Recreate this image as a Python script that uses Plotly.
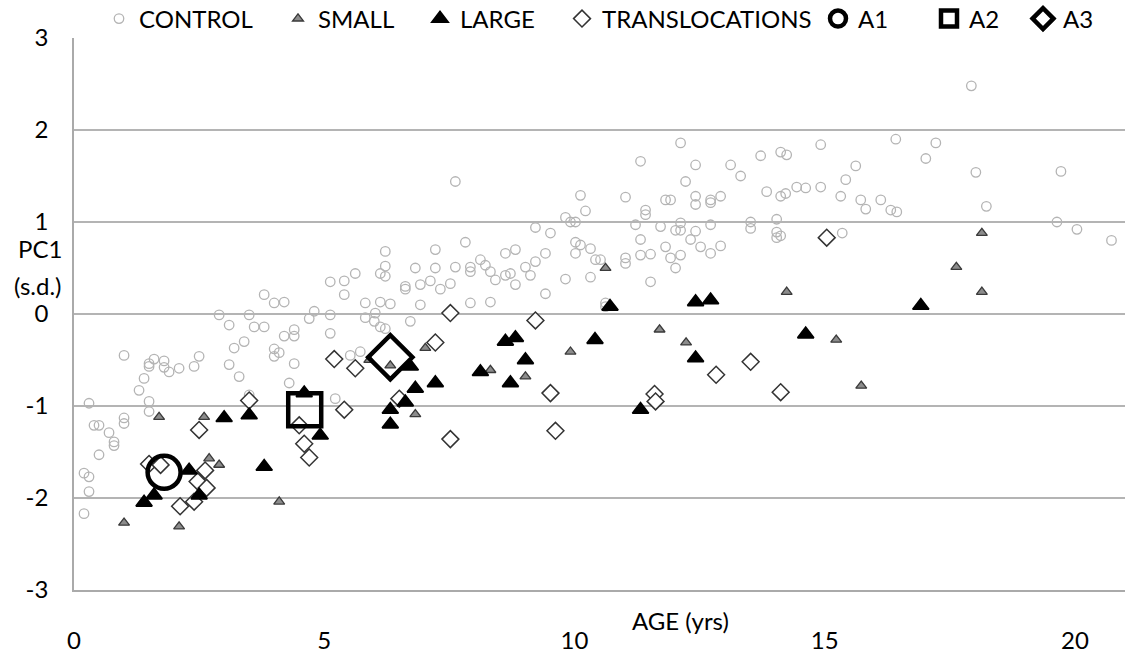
import plotly.graph_objects as go

# ---------------- data ----------------
control_age = [
    0.2, 0.2, 0.3, 0.3, 0.3, 0.4, 0.5, 0.5, 0.7, 0.8, 0.8, 1.0, 1.0, 1.0, 1.3, 1.4, 1.5, 1.5, 1.5, 1.5,
    1.6, 1.8, 1.8, 1.9, 2.1, 2.4, 2.5, 2.9, 3.1, 3.1, 3.2, 3.3, 3.4, 3.5, 3.5, 3.6, 3.8, 3.8, 4.0, 4.2,
    4.0, 4.1, 4.0, 4.2, 4.4, 4.4, 4.4, 4.3, 4.7, 4.8,
    5.12, 5.12, 5.12, 5.22, 5.40, 5.40, 5.62, 5.52, 5.72, 5.82, 5.82, 6.00, 6.02, 6.12, 6.12, 6.12,
    6.22, 6.22, 6.22, 6.22, 6.32, 6.62, 6.62, 6.72, 6.82, 6.92, 6.92, 7.12, 7.22, 7.22, 7.32, 7.52,
    7.62, 7.62, 7.82, 7.92, 7.92, 7.92, 8.12, 8.22, 8.32, 8.32, 8.42, 8.62, 8.62, 8.72, 8.82, 8.82,
    9.02, 9.12, 9.22, 9.22, 9.42, 9.42, 9.52, 9.82, 9.82,
    9.92, 10.02, 10.02, 10.12, 10.02, 10.12, 10.22, 10.32, 10.32, 10.42, 10.52, 10.62, 10.62, 11.02,
    11.02, 11.02, 11.22, 11.32, 11.32, 11.32, 11.42, 11.42, 11.52, 11.52, 11.72, 11.82, 11.82, 11.92,
    11.92, 12.02, 12.02, 12.12, 12.12, 12.12, 12.12, 12.22, 12.32, 12.42, 12.42, 12.42, 12.42, 12.52,
    12.72, 12.72, 12.72, 12.72, 12.92, 12.92, 13.12, 13.32, 13.52, 13.52, 13.72, 13.84, 14.04, 14.04,
    14.04, 14.12, 14.12, 14.12, 14.22, 14.24, 14.44, 14.62, 14.92, 14.92,
    15.32, 15.35, 15.42, 15.62, 15.72, 15.82, 16.12, 16.32, 16.44, 16.42, 17.02, 17.22, 17.93, 18.02,
    18.23, 19.64, 19.72, 20.04, 20.73,
]
control_pc1 = [
    -2.17, -1.73, -1.77, -1.93, -0.97, -1.21, -1.21, -1.53, -1.29, -1.39, -1.43, -1.13, -1.19, -0.45,
    -0.83, -0.70, -0.54, -0.57, -0.95, -1.06,
    -0.49, -0.51, -0.58, -0.63, -0.59, -0.57, -0.46, -0.01, -0.12, -0.55, -0.37, -0.68, -0.30, -0.01,
    -0.88, -0.14, -0.14, 0.21, 0.12, 0.13,
    -0.38, -0.42, -0.46, -0.24, -0.24, -0.17, -0.54, -0.75, -0.05, 0.03,
    0.35, -0.01, -0.21, -0.92, 0.36, 0.21, 0.44, -0.45, -0.41, 0.12, -0.04, -0.08, 0.01, 0.44, 0.13, -0.14,
    0.68, 0.52, 0.41, -0.16, 0.11, 0.30, 0.27, -0.08, 0.50, 0.32, 0.10, 0.36, 0.70, 0.50, 0.27, 0.33,
    1.44, 0.51, 0.78, 0.51, 0.46, 0.12, 0.59, 0.53, 0.46, 0.13, 0.37, 0.66, 0.42, 0.44, 0.70, 0.32,
    0.51, 0.42, 0.57, 0.94, 0.66, 0.22, 0.88, 1.05, 0.38,
    1.00, 1.00, 0.78, 0.75, 0.66, 1.29, 1.12, 0.71, 0.40, 0.59, 0.59, 0.12, 0.08, 1.27,
    0.61, 0.55, 0.97, 1.66, 0.81, 0.64, 1.13, 1.08, 0.65, 0.35, 0.95, 1.24, 0.73, 1.24,
    0.61, 0.91, 0.50, 1.86, 0.99, 0.91, 0.64, 1.44, 0.81, 1.62, 1.28, 1.19, 0.90, 0.73,
    1.24, 1.21, 0.97, 0.66, 1.28, 0.74, 1.62, 1.50, 1.00, 0.93, 1.72, 1.33, 1.03, 0.89,
    0.83, 1.76, 1.28, 0.85, 1.31, 1.73, 1.38, 1.37, 1.84, 1.38,
    1.28, 0.88, 1.46, 1.61, 1.24, 1.14, 1.24, 1.13, 1.11, 1.90, 1.69, 1.86, 2.48, 1.54,
    1.17, 1.00, 1.55, 0.92, 0.80,
]

small_age = [1.0, 1.7, 2.1, 2.6, 2.7, 2.9, 4.1, 5.9, 6.32, 6.82, 7.02, 8.32, 9.02, 9.92, 10.62,
             11.7, 12.23, 14.24, 15.23, 15.73, 17.63, 18.14, 18.14]
small_pc1 = [-2.27, -1.12, -2.31, -1.12, -1.57, -1.64, -2.04, -0.50, -0.56, -1.09, -0.37, -0.61, -0.68,
             -0.41, 0.50, -0.17, -0.31, 0.24, -0.28, -0.78, 0.51, 0.88, 0.24]

large_age = [1.4, 1.6, 2.3, 2.5, 3.0, 3.5, 3.8, 4.6, 4.92, 6.32, 6.32, 6.62, 6.72, 6.82, 7.22, 8.12,
             8.62, 8.82, 8.72, 9.02, 10.41, 10.71, 11.32, 12.42, 12.42, 12.72, 14.62, 16.92]
large_pc1 = [-2.05, -1.97, -1.70, -1.97, -1.13, -1.10, -1.66, -0.86, -1.32, -1.04, -1.20, -0.96, -0.57,
             -0.81, -0.75, -0.63, -0.30, -0.26, -0.75, -0.50, -0.28, 0.08, -1.04, 0.13, -0.48, 0.15,
             -0.22, 0.09]

trans_age = [1.5, 1.73, 2.12, 2.40, 2.47, 2.5, 2.62, 2.65, 3.5, 4.5, 4.6, 4.7, 5.2, 5.4, 5.62, 6.5,
             7.22, 7.52, 7.52, 9.22, 9.52, 9.62, 11.6, 11.62, 12.83, 13.52, 14.12, 15.04]
trans_pc1 = [-1.63, -1.64, -2.09, -2.04, -1.82, -1.26, -1.70, -1.89, -0.94, -1.21, -1.41, -1.56, -0.49,
             -1.04, -0.59, -0.92, -0.31, 0.01, -1.36, -0.07, -0.86, -1.27, -0.87, -0.95, -0.66, -0.52,
             -0.85, 0.83]

a1_age, a1_pc1 = [1.8], [-1.72]
a2_age, a2_pc1 = [4.61], [-1.04]
a3_age, a3_pc1 = [6.32], [-0.47]

y_ticks = [-3, -2, -1, 0, 1, 2, 3]
y_ticktext = ["-3", "-2", "-1", "0", "1", "2", "3"]
x_ticks = [0, 5, 10, 15, 20]

assert len(control_age) == len(control_pc1)
assert len(small_age) == len(small_pc1)
assert len(large_age) == len(large_pc1)
assert len(trans_age) == len(trans_pc1)

# ---------------- figure ----------------
FONT = "Lato"
FS = 24
W, H = 1127, 658
L, R, T, B = 74, 2, 38, 68
PW = W - L - R
PH = H - T - B


def px_to_paper_x(sx):
    return (sx - L) / PW


def px_to_paper_y(sy):
    return 1 - (sy - T) / PH


fig = go.Figure()

series = [
    # name, x, y, marker, legend id, legend symbol x (px)
    ("CONTROL", control_age, control_pc1,
     dict(symbol="circle-open", size=9.5, color="#b4b4b4", line=dict(width=1.3, color="#b4b4b4")),
     "legend", 119),
    ("TRANSLOCATIONS", trans_age, trans_pc1,
     dict(symbol="diamond", size=13, color="white", line=dict(width=1.5, color="#333333")),
     "legend4", 582),
    ("SMALL", small_age, small_pc1,
     dict(symbol="triangle-up", size=9.5, color="#8c8c8c", line=dict(width=1.3, color="#3a3a3a")),
     "legend2", 298),
    ("LARGE", large_age, large_pc1,
     dict(symbol="triangle-up", size=14, color="black", line=dict(width=1.8, color="black")),
     "legend3", 440),
    ("A1", a1_age, a1_pc1,
     dict(symbol="circle-open", size=33, color="black", line=dict(width=4.5, color="black")),
     "legend5", 838),
    ("A2", a2_age, a2_pc1,
     dict(symbol="square-open", size=33, color="black", line=dict(width=4.5, color="black")),
     "legend6", 949),
    ("A3", a3_age, a3_pc1,
     dict(symbol="diamond-open", size=34, color="black", line=dict(width=4.5, color="black")),
     "legend7", 1043),
]

legends = {}
for name, xs, ys, marker, leg, symx in series:
    fig.add_trace(go.Scatter(x=xs, y=ys, mode="markers", name=name, marker=marker,
                             legend=leg, showlegend=True, hoverinfo="x+y+name"))
    legends[leg] = dict(
        x=px_to_paper_x(symx - 20), xanchor="left",
        y=px_to_paper_y(19), yanchor="middle",
        orientation="h", itemsizing="trace",
        bgcolor="rgba(0,0,0,0)", borderwidth=0,
        font=dict(family=FONT, size=FS, color="black"),
        itemclick=False, itemdoubleclick=False,
    )

fig.update_layout(
    width=W, height=H,
    margin=dict(l=L, r=R, t=T, b=B, pad=0, autoexpand=False),
    paper_bgcolor="white", plot_bgcolor="white",
    font=dict(family=FONT, size=FS, color="black"),
    showlegend=True,
    **legends,
)

fig.update_xaxes(
    range=[0, 21], tickmode="array", tickvals=x_ticks,
    showgrid=False, zeroline=False, automargin=False,
    showline=True, linecolor="#aaaaaa", linewidth=1.5,
    ticks="", ticklabelstandoff=28,
    tickfont=dict(family=FONT, size=FS, color="black"),
)
fig.update_yaxes(
    range=[-3, 3], tickmode="array", tickvals=y_ticks, ticktext=y_ticktext,
    showgrid=True, gridcolor="#b4b4b4", gridwidth=1.8,
    zeroline=False, automargin=False,
    showline=True, linecolor="#aaaaaa", linewidth=1.5,
    ticks="", ticklabelstandoff=19,
    tickfont=dict(family=FONT, size=FS, color="black"),
)

# axis titles placed as in the reference
fig.add_annotation(text="AGE (yrs)", xref="paper", yref="paper",
                   x=px_to_paper_x(680), y=px_to_paper_y(620),
                   xanchor="center", yanchor="middle", showarrow=False,
                   font=dict(family=FONT, size=FS, color="black"))
fig.add_annotation(text="PC1", xref="paper", yref="paper",
                   x=px_to_paper_x(40), y=px_to_paper_y(248),
                   xanchor="center", yanchor="middle", showarrow=False,
                   font=dict(family=FONT, size=FS, color="black"))
fig.add_annotation(text="(s.d.)", xref="paper", yref="paper",
                   x=px_to_paper_x(38), y=px_to_paper_y(285),
                   xanchor="center", yanchor="middle", showarrow=False,
                   font=dict(family=FONT, size=FS, color="black"))

# remove the browser's default 8px page margin so the figure sits at the window's corner
fig.write_html("out.html", config={"displayModeBar": False},
               post_script="document.body.style.margin='0px';")
